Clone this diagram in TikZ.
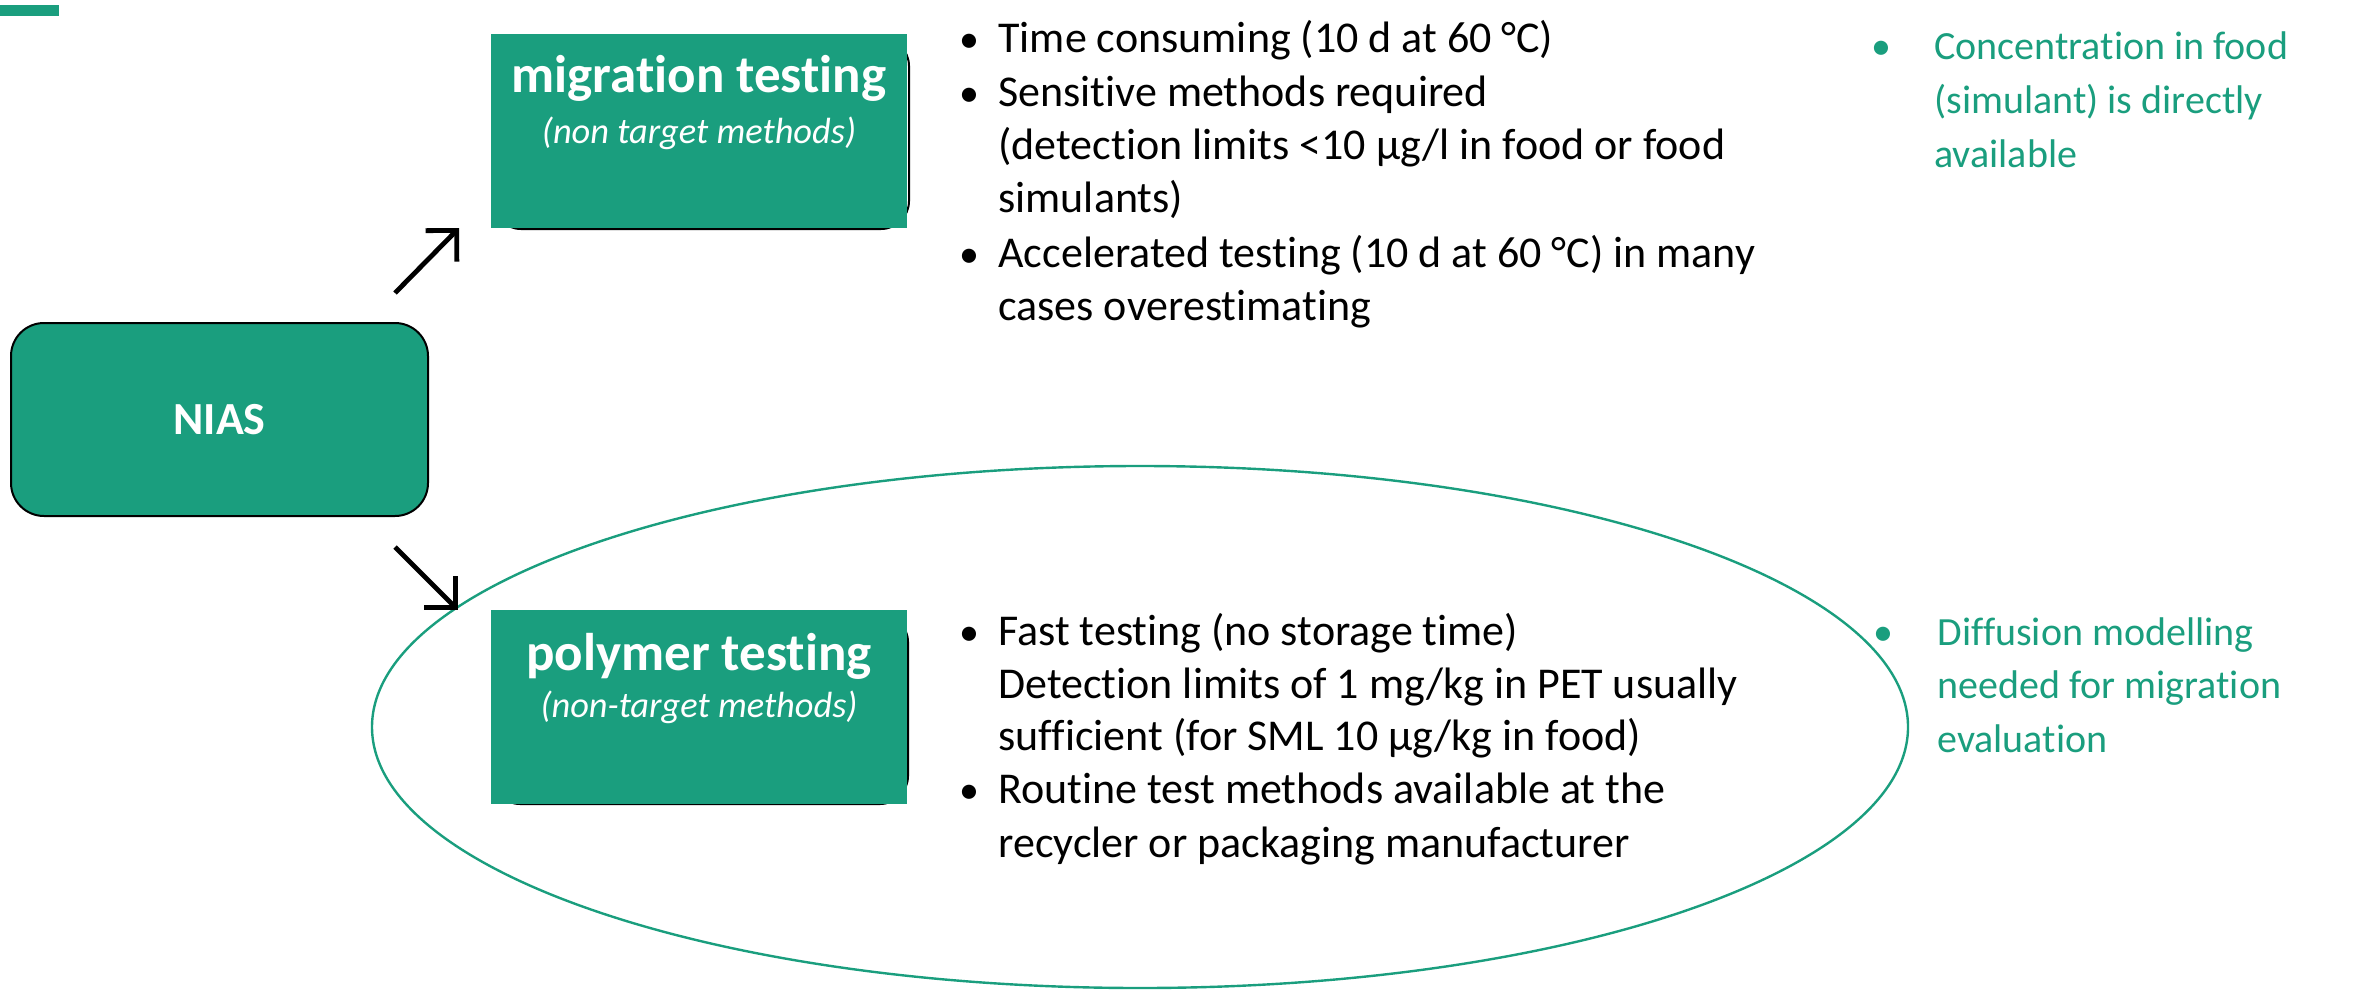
\documentclass[tikz,border=0pt]{standalone}
\usepackage{fontspec}
\setmainfont{Carlito}[Ligatures={NoCommon}]
\usetikzlibrary{arrows.meta}
\definecolor{tgreen}{RGB}{26,158,126}
\begin{document}
\begin{tikzpicture}[x=0.5pt,y=-0.5pt,
  body/.style={anchor=base west, inner sep=0pt, font=\fontsize{22}{26.5}\selectfont},
  gbody/.style={anchor=base west, inner sep=0pt, text=tgreen, font=\fontsize{20}{26.5}\selectfont},
  bul/.style={anchor=base, inner sep=0pt, font=\fontsize{20}{26.5}\selectfont},
  gbul/.style={bul, text=tgreen},
  head/.style={anchor=base, inner sep=0pt, text=white, font=\fontsize{26.5}{30}\selectfont\bfseries},
  sub/.style={anchor=base, inner sep=0pt, text=white, font=\fontsize{18.2}{22}\selectfont\itshape},
  greenbox/.style={fill=tgreen, inner sep=0pt, minimum width=208pt, minimum height=97pt},
  arr/.style={line width=2.4pt, -{Straight Barb[length=11pt, width=22pt]}},
]
\useasboundingbox (0,0) rectangle (2364,990);

% top-left accent bar
\fill[tgreen] (0,5) rectangle (59,16);

% NIAS box
\node[draw=black, line width=1pt, fill=tgreen, rounded corners=16.5pt,
      minimum width=208.5pt, minimum height=96.5pt, inner sep=0pt,
      text=white, font=\fontsize{23}{27}\selectfont\bfseries] (nias) at (219.5,419.5) {NIAS};

% migration testing box
\draw[black, line width=1pt, rounded corners=14pt] (493,38) rectangle (909,229);
\node[greenbox, anchor=north west] (mig) at (491,34) {};
\node[head] (migt) at (699,93) {migration testing};
\node[sub] (migs) at (699,143) {(non target methods)};

% ellipse around polymer testing
\draw[tgreen, line width=1.2pt] (1140,727) ellipse [x radius=384pt, y radius=130.5pt];

% polymer testing box
\draw[black, line width=1pt, rounded corners=14pt] (492,614) rectangle (908,804);
\node[greenbox, anchor=north west] (pol) at (491,610) {};
\node[head] (polt) at (699,670) {polymer testing};
\node[sub] (pols) at (699,717) {(non-target methods)};

% arrows
\coordinate (a1s) at (395,293);
\coordinate (a1e) at (459,228);
\coordinate (a2s) at (395,547);
\coordinate (a2e) at (458,610);
\draw[arr] (a1s) -- (a1e);
\draw[arr] (a2s) -- (a2e);

% upper bullet list
\node[bul] (b1) at (969,53) {•};
\node[body] (t1) at (998,53) {Time consuming (10 d at 60 °C)};
\node[bul] (b2) at (969,106) {•};
\node[body] (t2) at (998,106) {Sensitive methods required};
\node[body] (t3) at (998,159) {(detection limits <10 µg/l in food or food};
\node[body] (t4) at (998,212) {simulants)};
\node[bul] (b3) at (969,267) {•};
\node[body] (t5) at (998,267) {Accelerated testing (10 d at 60 °C) in many};
\node[body] (t6) at (998,320) {cases overestimating};

% lower bullet list
\node[bul] (b4) at (969,645) {•};
\node[body] (u1) at (998,645) {Fast testing (no storage time)};
\node[body] (u2) at (998,698) {Detection limits of 1 mg/kg in PET usually};
\node[body] (u3) at (998,750) {sufficient (for SML 10 µg/kg in food)};
\node[bul] (b5) at (969,803) {•};
\node[body] (u4) at (998,803) {Routine test methods available at the};
\node[body] (u5) at (998,857) {recycler or packaging manufacturer};

% green remarks
\node[gbul] (g0) at (1881,60) {•};
\node[gbody] (g1) at (1934,60) {Concentration in food};
\node[gbody] (g2) at (1934,113) {(simulant) is directly};
\node[gbody] (g3) at (1934,167) {available};

\node[gbul] (h0) at (1883,645) {•};
\node[gbody] (h1) at (1937,645) {Diffusion modelling};
\node[gbody] (h2) at (1937,698) {needed for migration};
\node[gbody] (h3) at (1937,752) {evaluation};
\end{tikzpicture}
\end{document}
